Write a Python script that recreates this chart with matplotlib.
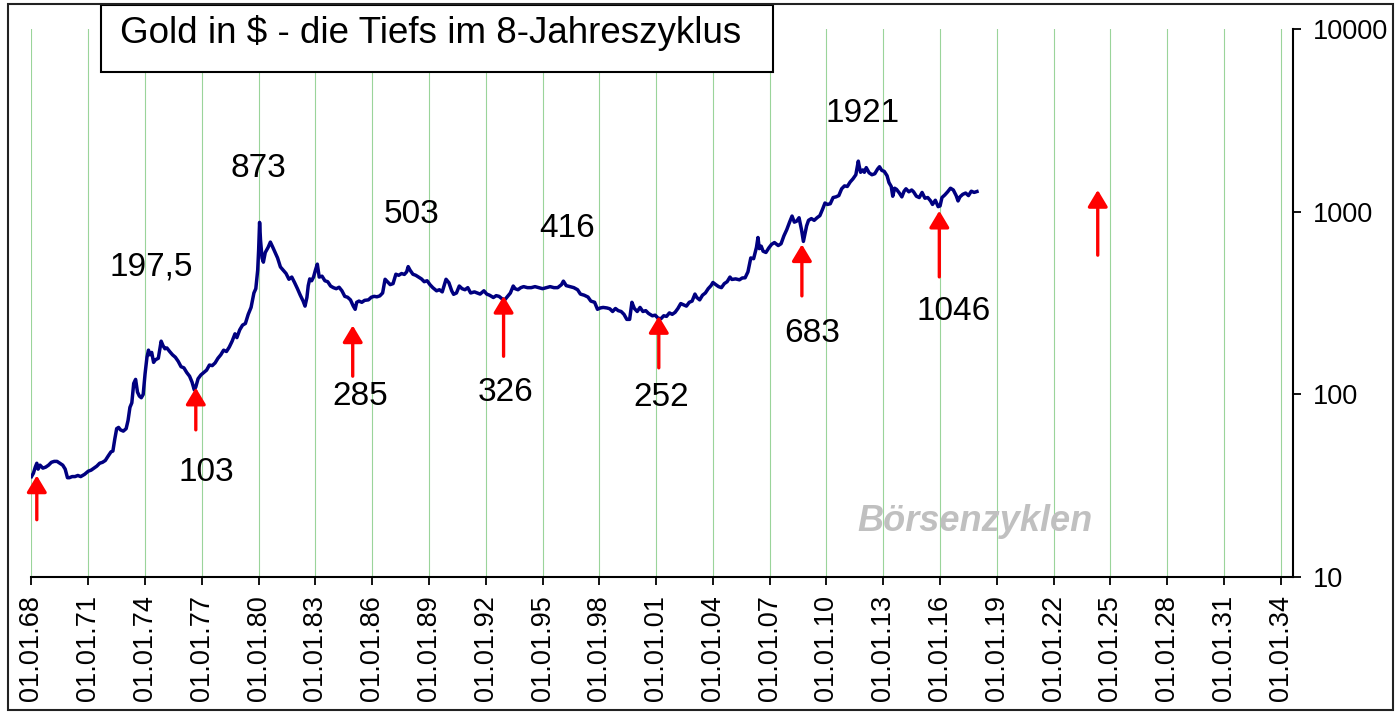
import numpy as np
import matplotlib
matplotlib.use("Agg")
import matplotlib.pyplot as plt
from matplotlib.patches import Rectangle
from matplotlib.ticker import FixedLocator, FuncFormatter, NullLocator

plt.rcParams['font.family'] = ['Liberation Sans', 'DejaVu Sans']

# gold price (USD), x = decimal year
years = [
    1968.00, 1968.10, 1968.20, 1968.28, 1968.35, 1968.45, 1968.60, 1968.75, 1968.90,
    1969.05, 1969.20, 1969.35, 1969.50, 1969.65, 1969.78, 1969.90,
    1970.00, 1970.15, 1970.30, 1970.45, 1970.60, 1970.80,
    1971.00, 1971.15, 1971.30, 1971.45, 1971.60, 1971.75, 1971.90,
    1972.05, 1972.20, 1972.30, 1972.40, 1972.50, 1972.60, 1972.70, 1972.85,
    1973.00, 1973.10, 1973.20, 1973.30, 1973.40, 1973.50, 1973.60, 1973.70, 1973.80, 1973.90,
    1974.00, 1974.10, 1974.18, 1974.25, 1974.35, 1974.45, 1974.55, 1974.70, 1974.85, 1974.95,
    1975.05, 1975.15, 1975.30, 1975.45, 1975.60, 1975.75, 1975.90,
    1976.05, 1976.20, 1976.35, 1976.48, 1976.60, 1976.68, 1976.80, 1976.95,
    1977.10, 1977.25, 1977.40, 1977.55, 1977.70, 1977.85,
    1978.00, 1978.15, 1978.30, 1978.45, 1978.60, 1978.75, 1978.85,
    1979.00, 1979.15, 1979.30, 1979.45, 1979.60, 1979.75, 1979.85, 1979.95,
    1980.00, 1980.05, 1980.10, 1980.18, 1980.25, 1980.35, 1980.50, 1980.62, 1980.75, 1980.90,
    1981.00, 1981.15, 1981.30, 1981.45, 1981.60, 1981.75, 1981.90,
    1982.05, 1982.20, 1982.35, 1982.45, 1982.55, 1982.62, 1982.70, 1982.80, 1982.90,
    1983.00, 1983.10, 1983.20, 1983.35, 1983.50, 1983.65, 1983.80, 1983.95,
    1984.10, 1984.25, 1984.40, 1984.55, 1984.70, 1984.85,
    1985.00, 1985.10, 1985.18, 1985.30, 1985.45, 1985.60, 1985.80, 1985.95,
    1986.10, 1986.25, 1986.40, 1986.55, 1986.68, 1986.80, 1986.95,
    1987.10, 1987.25, 1987.40, 1987.55, 1987.70, 1987.82, 1987.90,
    1988.00, 1988.15, 1988.30, 1988.45, 1988.60, 1988.75, 1988.90,
    1989.05, 1989.20, 1989.40, 1989.55, 1989.70, 1989.90,
    1990.05, 1990.20, 1990.30, 1990.45, 1990.60, 1990.75, 1990.90,
    1991.05, 1991.20, 1991.40, 1991.55, 1991.70, 1991.90,
    1992.05, 1992.20, 1992.40, 1992.55, 1992.70, 1992.85,
    1993.00, 1993.15, 1993.30, 1993.45, 1993.55, 1993.70, 1993.85,
    1994.00, 1994.20, 1994.40, 1994.60, 1994.80,
    1995.00, 1995.20, 1995.40, 1995.60, 1995.80,
    1996.00, 1996.10, 1996.25, 1996.45, 1996.65, 1996.85,
    1997.00, 1997.20, 1997.40, 1997.55, 1997.75, 1997.90,
    1998.05, 1998.20, 1998.40, 1998.55, 1998.70, 1998.85,
    1999.00, 1999.15, 1999.30, 1999.45, 1999.60, 1999.72, 1999.85,
    2000.00, 2000.15, 2000.30, 2000.45, 2000.60, 2000.80, 2000.95,
    2001.10, 2001.25, 2001.40, 2001.55, 2001.70, 2001.85,
    2002.00, 2002.15, 2002.30, 2002.45, 2002.60, 2002.75, 2002.90,
    2003.05, 2003.15, 2003.30, 2003.45, 2003.60, 2003.75, 2003.90,
    2004.00, 2004.15, 2004.30, 2004.45, 2004.60, 2004.75, 2004.90,
    2005.00, 2005.20, 2005.40, 2005.55, 2005.70, 2005.85,
    2006.00, 2006.15, 2006.30, 2006.38, 2006.45, 2006.55, 2006.65, 2006.80, 2006.95,
    2007.10, 2007.25, 2007.45, 2007.60, 2007.75, 2007.90,
    2008.05, 2008.18, 2008.30, 2008.42, 2008.55, 2008.68, 2008.78, 2008.85, 2008.95,
    2009.05, 2009.20, 2009.35, 2009.50, 2009.65, 2009.80, 2009.92,
    2010.05, 2010.20, 2010.35, 2010.50, 2010.65, 2010.80, 2010.95,
    2011.10, 2011.25, 2011.40, 2011.55, 2011.68, 2011.72, 2011.80, 2011.92,
    2012.00, 2012.10, 2012.25, 2012.40, 2012.55, 2012.70, 2012.80, 2012.92,
    2013.05, 2013.20, 2013.30, 2013.42, 2013.50, 2013.60, 2013.70, 2013.85, 2013.98,
    2014.10, 2014.20, 2014.35, 2014.50, 2014.60, 2014.75, 2014.90,
    2015.05, 2015.20, 2015.35, 2015.50, 2015.60, 2015.75, 2015.90,
    2016.00, 2016.10, 2016.25, 2016.40, 2016.55, 2016.70, 2016.85, 2016.95,
    2017.05, 2017.20, 2017.35, 2017.50, 2017.65, 2017.80, 2017.95,
]
prices = [
    35.5, 37, 40, 42, 39, 41, 39.5, 40, 41,
    42.5, 43, 43, 42, 41, 39, 35,
    35, 35.5, 35.5, 36, 35.5, 36.5,
    38, 38.5, 39.5, 40.5, 42, 42.5, 43.5,
    46, 48.5, 49, 57, 65, 66, 64, 63,
    65, 72, 85, 90, 115, 121, 103, 98, 96, 100,
    130, 160, 175, 165, 170, 150, 155, 158, 196, 185,
    178, 180, 172, 165, 160, 152, 142,
    140, 132, 126, 117, 106, 110, 122, 128,
    132, 136, 145, 144, 149, 158,
    165, 175, 172, 182, 196, 215, 205,
    226, 240, 245, 275, 300, 360, 380, 480,
    620, 877, 700, 560, 531, 600, 640, 684, 640, 590,
    560, 500, 480, 460, 428, 440, 410,
    380, 350, 325, 305, 340, 395, 430, 420, 440,
    480, 518, 440, 445, 420, 415, 393, 385,
    380, 387, 370, 345, 341, 330,
    305, 293, 320, 325, 320, 328, 330, 341,
    345, 343, 347, 360, 428, 415, 400,
    405, 456, 450, 460, 455, 470, 502,
    480, 456, 450, 440, 430, 415, 420,
    400, 385, 370, 375, 365, 428,
    410, 370, 354, 360, 393, 380, 375,
    385, 360, 365, 360, 355, 370,
    355, 350, 340, 348, 345, 335,
    330, 345, 360, 393, 380, 375, 385,
    390, 385, 385, 390, 385,
    380, 385, 390, 385, 385,
    400, 418, 395, 390, 385, 375,
    355, 350, 342, 325, 320, 293,
    298, 300, 298, 295, 285, 296,
    288, 285, 275, 258, 258, 320, 296,
    285, 300, 285, 288, 278, 270, 272,
    262, 260, 270, 268, 280, 275,
    282, 296, 315, 310, 305, 320, 325,
    355, 340, 330, 350, 360, 380, 395,
    411, 400, 390, 385, 405, 415, 440,
    427, 430, 425, 435, 436, 470,
    560, 555, 640, 725, 630, 650, 610, 600, 635,
    665, 680, 655, 670, 740, 800,
    880, 950, 880, 890, 930, 800, 690, 750, 840,
    900, 920, 900, 930, 955, 1040, 1120,
    1100, 1110, 1200, 1210, 1230, 1340, 1390,
    1380, 1460, 1520, 1600, 1900, 1800, 1650, 1700,
    1650, 1750, 1640, 1600, 1620, 1720, 1770, 1690,
    1670, 1580, 1450, 1380, 1220, 1350, 1330, 1270, 1210,
    1300, 1340, 1290, 1320, 1290, 1220, 1200,
    1280, 1190, 1200, 1150, 1100, 1160, 1070,
    1080, 1200, 1240, 1290, 1350, 1320, 1230, 1150,
    1210, 1250, 1270, 1230, 1300, 1280, 1295,
]

# 8-year cycle lows (red arrows): date, arrow tip, arrow base
low_dates = [1968.28, 1976.68, 1984.97, 1992.94, 2001.14, 2008.70, 2015.96, 2024.33]
low_tips = [36, 109, 239, 347, 269, 665, 1016, 1320]
low_bases = [20.6, 64, 126, 162, 140, 347, 441, 580]

# value labels (text, x, y)
label_texts = ['197,5', '873', '503', '416', '1921', '103', '285', '326', '252', '683', '1046']
label_x = [1974.33, 1979.97, 1988.09, 1996.29, 2011.9, 1977.21, 1985.35, 1993.03, 2001.28, 2009.24, 2016.71]
label_y = [497, 1738, 975, 807, 3444, 37.2, 98, 102, 95.7, 217, 286]

tick_years = list(range(1968, 2035, 3))
y_ticks = [10, 100, 1000, 10000]

fig = plt.figure(figsize=(13.95, 7.12), dpi=100)
ax = fig.add_axes([0.02258, 0.18961, 0.90409, 0.76896])

ax.plot(years, prices, color='#000080', lw=2.5, zorder=3)

for d, tip, base in zip(low_dates, low_tips, low_bases):
    ax.annotate('', xy=(d, tip), xytext=(d, base),
                arrowprops=dict(arrowstyle='-|>,head_length=1.0,head_width=0.6',
                                color='red', lw=2.4, shrinkA=0, shrinkB=0),
                zorder=4)

for t, x, y in zip(label_texts, label_x, label_y):
    ax.text(x, y, t, fontsize=24, ha='center', va='center', color='black', zorder=5)

ax.set_yscale('log')
ax.set_ylim(10, 10000)
ax.set_xlim(1968, 2034.63)

ax.yaxis.tick_right()
ax.yaxis.set_major_locator(FixedLocator(y_ticks))
ax.yaxis.set_minor_locator(NullLocator())
ax.yaxis.set_major_formatter(FuncFormatter(lambda v, p: '%d' % v))

ax.xaxis.set_major_locator(FixedLocator(tick_years))
ax.xaxis.set_minor_locator(NullLocator())
ax.xaxis.set_major_formatter(FuncFormatter(lambda v, p: '01.01.%02d' % (int(round(v)) % 100)))

ax.tick_params(axis='x', direction='out', length=6, width=1.3, labelsize=19.5,
               labelrotation=90, pad=7)
ax.tick_params(axis='y', direction='out', length=5.5, width=1.3, labelsize=19.5, pad=9)

ax.spines['left'].set_visible(False)
ax.spines['top'].set_visible(False)
ax.spines['right'].set_linewidth(1.5)
ax.spines['bottom'].set_linewidth(1.5)

ax.grid(axis='x', color='#9ad49a', lw=0.8)
ax.set_axisbelow(True)

# watermark
fig.text(0.699, 0.2669, 'Börsenzyklen', fontsize=26, fontweight='bold', fontstyle='italic',
         color='#c0c0c0', ha='center', va='center')

# title box
fig.add_artist(Rectangle((0.0724, 0.8989), 0.4817, 0.0941, transform=fig.transFigure,
                         facecolor='white', edgecolor='black', lw=1.5, zorder=2))
fig.text(0.086, 0.953, r'Gold in \$ - die Tiefs im 8-Jahreszyklus', fontsize=26.5,
         ha='left', va='center', zorder=3)

# outer frame
fig.add_artist(Rectangle((8 / 1395, 2 / 712), 1385 / 1395, 706 / 712, transform=fig.transFigure,
                         facecolor='none', edgecolor='#222222', lw=1.5, zorder=2))

fig.savefig('out.png', dpi=100)
